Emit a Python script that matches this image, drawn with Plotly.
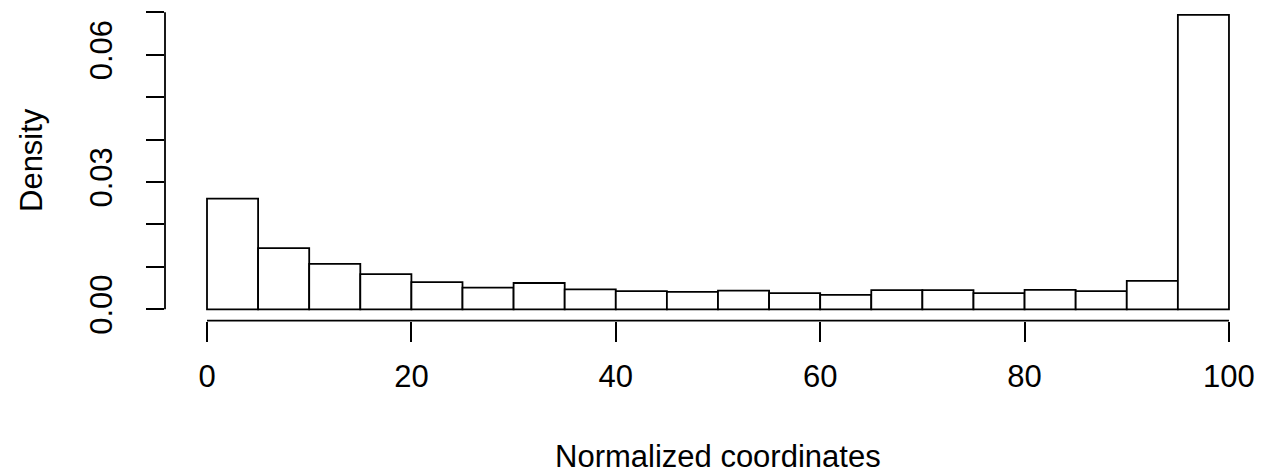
import plotly.graph_objects as go

# Histogram bins (left edges) and densities
bin_left = [0, 5, 10, 15, 20, 25, 30, 35, 40, 45, 50, 55, 60, 65, 70, 75, 80, 85, 90, 95]
bin_width = 5
density = [0.0261, 0.0144, 0.0107, 0.0083, 0.0064, 0.0051, 0.0062, 0.0047,
           0.0043, 0.0041, 0.0044, 0.0038, 0.0034, 0.0045, 0.0045, 0.0038,
           0.0046, 0.0043, 0.0067, 0.0694]
x_ticks = [0, 20, 40, 60, 80, 100]
y_ticks = [0.00, 0.01, 0.02, 0.03, 0.04, 0.05, 0.06, 0.07]
y_ticklabels = ["0.00", "", "", "0.03", "", "", "0.06", ""]
x_title = "Normalized coordinates"
y_title = "Density"

FONT = "Liberation Sans, Arial, Helvetica, sans-serif"
FS = 31
LW = 1.8

centers = [b + bin_width / 2 for b in bin_left]

fig = go.Figure(go.Bar(
    x=centers, y=density, width=[bin_width] * len(density),
    marker=dict(color="white", line=dict(color="black", width=LW)),
    hoverinfo="skip",
))

W, H = 1263, 476
ml, mr, mt, mb = 165, 0, 0, 131
plot_h = H - mt - mb

fig.update_layout(
    width=W, height=H,
    margin=dict(l=ml, r=mr, t=mt, b=mb, pad=0),
    paper_bgcolor="white", plot_bgcolor="white",
    showlegend=False,
    font=dict(family=FONT, size=FS, color="black"),
    xaxis=dict(
        range=[-4.11, 103.33], tickmode="array", tickvals=x_ticks,
        ticktext=[str(v) for v in x_ticks],
        ticks="outside", ticklen=20, tickwidth=LW, tickcolor="black",
        showline=False, showgrid=False, zeroline=False,
        anchor="free", position=(plot_h - (320.7 - mt)) / plot_h,
        ticklabelstandoff=8,
        tickfont=dict(family=FONT, size=FS, color="black"),
    ),
    yaxis=dict(
        range=[-0.00841, 0.0729], tickmode="array", tickvals=y_ticks,
        ticktext=y_ticklabels, tickangle=-90,
        ticks="outside", ticklen=18, tickwidth=LW, tickcolor="black",
        showline=False, showgrid=False, zeroline=False,
        ticklabelstandoff=22,
        tickfont=dict(family=FONT, size=FS, color="black"),
    ),
    shapes=[
        dict(type="line", xref="x", yref="paper", x0=x_ticks[0], x1=x_ticks[-1],
             y0=(plot_h - 320.7) / plot_h, y1=(plot_h - 320.7) / plot_h,
             line=dict(color="black", width=LW)),
        dict(type="line", xref="paper", yref="y", x0=0, x1=0,
             y0=y_ticks[0], y1=y_ticks[-1],
             line=dict(color="black", width=LW)),
    ],
    annotations=[
        dict(text=x_title, xref="x", yref="paper", x=50, y=(plot_h - 456) / plot_h,
             showarrow=False, xanchor="center", yanchor="middle",
             font=dict(family=FONT, size=FS, color="black")),
        dict(text=y_title, xref="paper", yref="paper", x=(32 - ml) / (W - ml - mr),
             y=(plot_h - 160) / plot_h, textangle=-90,
             showarrow=False, xanchor="center", yanchor="middle",
             font=dict(family=FONT, size=FS, color="black")),
    ],
)

fig.write_html("out.html")
